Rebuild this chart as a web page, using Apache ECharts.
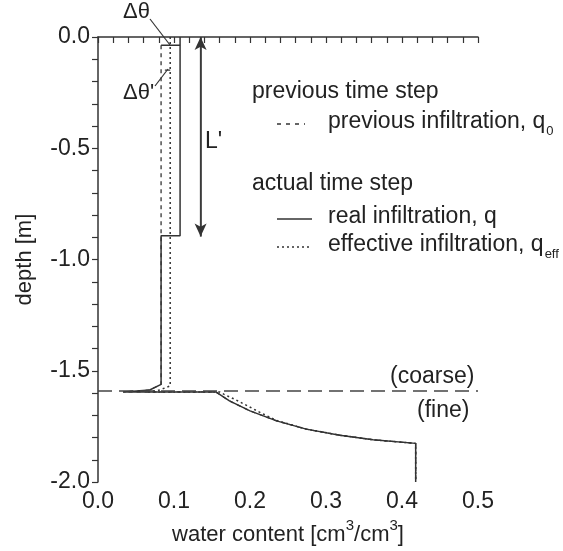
<!DOCTYPE html>
<html>
<head>
<meta charset="utf-8">
<script src="https://cdn.jsdelivr.net/npm/echarts@6/dist/echarts.min.js"></script>
<style>
  html, body { margin: 0; padding: 0; background: #fff; }
  #chart { width: 563px; height: 551px; }
</style>
</head>
<body>
<div id="chart"></div>
<script>
'use strict';

// profiles: water content [-] vs depth [m]
var prevTheta = [0.083, 0.083, 0.068, 0.033, 0.155, 0.173, 0.200, 0.235, 0.274, 0.318, 0.362, 0.418, 0.418];
var prevDepth = [-0.037, -1.561, -1.586, -1.595, -1.595, -1.635, -1.680, -1.725, -1.762, -1.789, -1.810, -1.826, -2.0];

var realTheta = [0.108, 0.108, 0.083, 0.083, 0.068, 0.033, 0.155, 0.173, 0.200, 0.235, 0.274, 0.318, 0.362, 0.418, 0.418];
var realDepth = [0, -0.893, -0.893, -1.561, -1.586, -1.595, -1.595, -1.635, -1.680, -1.725, -1.762, -1.789, -1.810, -1.826, -2.0];

var effTheta = [0.095, 0.095, 0.081, 0.064, 0.160, 0.166, 0.180, 0.197, 0.215, 0.235, 0.274, 0.318, 0.362, 0.418, 0.418];
var effDepth = [0, -1.568, -1.586, -1.595, -1.595, -1.606, -1.628, -1.658, -1.690, -1.723, -1.762, -1.789, -1.810, -1.826, -2.0];

// annotations
var deltaTheta = [0.083, 0.108];
var deltaDepth = [-0.037, -0.037];
var deltaThetaP = [0.088, 0.095];
var deltaDepthP = [-0.149, -0.149];
var arrowTheta = [0.135, 0.135];
var arrowDepth = [0, -0.896];
var interfaceDepth = -1.595;

var xTicks = [0.0, 0.1, 0.2, 0.3, 0.4, 0.5];
var yTicks = [0.0, -0.5, -1.0, -1.5, -2.0];

var FONT = 'Liberation Sans, Arial, Helvetica, sans-serif';
var INK = '#222';
var LINE = '#333';

function pairs(xs, ys) {
  return xs.map(function (x, i) { return [x, ys[i]]; });
}

var chart = echarts.init(document.getElementById('chart'));

function plain(name, xs, ys, dash, width, z) {
  return {
    name: name,
    type: 'line',
    data: pairs(xs, ys),
    symbol: 'none',
    silent: true,
    z: z,
    lineStyle: { color: LINE, width: width, type: dash }
  };
}

function txt(s, x, y, size, rich) {
  return {
    type: 'text', x: x, y: y, silent: true,
    style: {
      text: s, fill: INK, fontSize: size, fontFamily: FONT,
      verticalAlign: 'middle', align: 'left', rich: rich || {}
    }
  };
}

function sample(x1, x2, y, dash) {
  return {
    type: 'line', silent: true,
    shape: { x1: x1, y1: y, x2: x2, y2: y },
    style: { stroke: LINE, lineWidth: 1.4, lineDash: dash }
  };
}

var subRich = { sub: { fontSize: 13, fontFamily: FONT, fill: INK, verticalAlign: 'bottom', padding: [0, 0, -4, 1] } };

var option = {
  animation: false,
  backgroundColor: '#fff',
  textStyle: { fontFamily: FONT },
  grid: { left: 98, right: 85, top: 37, bottom: 67 },
  xAxis: {
    type: 'value', min: 0, max: 0.5, interval: 0.1,
    name: 'water content [cm{sup|3}/cm{sup|3}]',
    nameLocation: 'middle', nameGap: 40,
    nameTextStyle: {
      fontSize: 22, color: INK, fontFamily: FONT,
      rich: { sup: { fontSize: 15, fontFamily: FONT, color: INK, verticalAlign: 'top', padding: [-6, 0, 0, 0] } }
    },
    axisLine: { lineStyle: { color: LINE, width: 1.5 } },
    axisTick: { inside: false, length: 6, lineStyle: { color: LINE, width: 1.2 } },
    minorTick: { show: true, splitNumber: 5, length: 6, lineStyle: { color: LINE, width: 1.2 } },
    splitLine: { show: false },
    axisLabel: {
      fontSize: 23, color: INK, margin: 8,
      formatter: function (v) { return xTicks.indexOf(+v.toFixed(1)) >= 0 ? v.toFixed(1) : ''; }
    }
  },
  yAxis: {
    type: 'value', min: -2, max: 0, interval: 0.5,
    name: 'depth [m]',
    nameLocation: 'middle', nameGap: 62,
    nameTextStyle: { fontSize: 22, color: INK, fontFamily: FONT },
    axisLine: { lineStyle: { color: LINE, width: 1.5 } },
    axisTick: { inside: false, length: 6, lineStyle: { color: LINE, width: 1.2 } },
    minorTick: { show: true, splitNumber: 5, length: 6, lineStyle: { color: LINE, width: 1.2 } },
    splitLine: { show: false },
    axisLabel: {
      fontSize: 23, color: INK, margin: 8,
      formatter: function (v) { return yTicks.indexOf(+v.toFixed(1)) >= 0 ? v.toFixed(1) : ''; }
    }
  },
  series: [
    plain('previous infiltration', prevTheta, prevDepth, [4, 4], 1.3, 2),
    plain('effective infiltration', effTheta, effDepth, [2, 3], 1.5, 3),
    plain('real infiltration', realTheta, realDepth, 'solid', 1.5, 4),
    plain('delta theta', deltaTheta, deltaDepth, 'solid', 1.3, 4),
    plain("delta theta'", deltaThetaP, deltaDepthP, 'solid', 1.3, 4),
    {
      name: 'interface', type: 'line', data: [], silent: true, z: 1,
      markLine: {
        silent: true, symbol: 'none', label: { show: false },
        lineStyle: { color: '#444', width: 1.5, type: [14, 7] },
        data: [{ yAxis: interfaceDepth }]
      }
    },
    {
      name: "L'", type: 'line', silent: true, z: 3,
      data: pairs(arrowTheta, arrowDepth),
      symbol: 'none',
      lineStyle: { color: '#555', width: 1.5 },
      markLine: {
        silent: true, symbol: ['arrow', 'arrow'], symbolSize: [9, 13],
        label: { show: false },
        lineStyle: { color: '#333', width: 1.5, type: 'solid' },
        data: [[{ coord: [arrowTheta[0], arrowDepth[0]] }, { coord: [arrowTheta[1], arrowDepth[1]] }]]
      }
    }
  ],
  graphic: [
    txt('\u0394\u03b8', 123, 12, 22),
    txt('\u0394\u03b8\'', 123, 93, 22),
    { type: 'line', silent: true, shape: { x1: 150, y1: 19, x2: 170, y2: 45 }, style: { stroke: LINE, lineWidth: 1.2 } },
    { type: 'line', silent: true, shape: { x1: 155, y1: 86, x2: 168, y2: 69 }, style: { stroke: LINE, lineWidth: 1.2 } },
    txt('L\'', 205, 142, 23),
    txt('(coarse)', 390, 377, 23),
    txt('(fine)', 417, 411, 23),

    txt('previous time step', 252, 92, 23),
    sample(277, 305, 124, [4, 5]),
    txt('previous infiltration, q{sub|0}', 328, 122, 23, subRich),
    txt('actual time step', 252, 184, 23),
    sample(277, 312, 219, null),
    txt('real infiltration, q', 328, 217, 23),
    sample(277, 312, 247, [2, 3]),
    txt('effective infiltration, q{sub|eff}', 328, 245, 23, subRich)
  ]
};

chart.setOption(option);
</script>
</body>
</html>
